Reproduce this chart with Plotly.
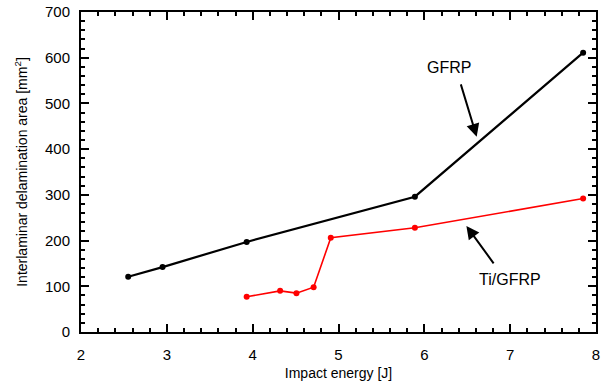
import plotly.graph_objects as go

gfrp_x = [2.55, 2.95, 3.93, 5.89, 7.85]
gfrp_y = [121, 142, 197, 296, 611]
ti_x = [3.93, 4.32, 4.51, 4.71, 4.91, 5.89, 7.85]
ti_y = [77, 90, 85, 98, 206, 228, 292]

x_ticks = [2, 3, 4, 5, 6, 7, 8]
y_ticks = [0, 100, 200, 300, 400, 500, 600, 700]

font = "Liberation Sans, Arial, sans-serif"

fig = go.Figure()
fig.add_trace(go.Scatter(x=gfrp_x, y=gfrp_y, mode="lines+markers",
                         line=dict(color="black", width=2.2),
                         marker=dict(color="black", size=6), name="GFRP"))
fig.add_trace(go.Scatter(x=ti_x, y=ti_y, mode="lines+markers",
                         line=dict(color="#ff0000", width=1.6),
                         marker=dict(color="#ff0000", size=6), name="Ti/GFRP"))

fig.add_annotation(x=6.29, y=578, text="GFRP", showarrow=False,
                   font=dict(family=font, size=16, color="black"))
fig.add_annotation(x=6.61, y=427, ax=6.42, ay=545, axref="x", ayref="y",
                   xref="x", yref="y", text="", showarrow=True,
                   arrowhead=2, arrowsize=1.3, arrowwidth=2, arrowcolor="black")
fig.add_annotation(x=7.0, y=114, text="Ti/GFRP", showarrow=False,
                   font=dict(family=font, size=16, color="black"))
fig.add_annotation(x=6.49, y=232, ax=6.82, ay=147, axref="x", ayref="y",
                   xref="x", yref="y", text="", showarrow=True,
                   arrowhead=2, arrowsize=1.3, arrowwidth=2, arrowcolor="black")

axis_common = dict(showline=True, linewidth=2, linecolor="black", mirror="allticks",
                   ticks="inside", ticklen=8, tickwidth=1.5, tickcolor="black",
                   showgrid=False, zeroline=False,
                   tickfont=dict(family=font, size=15, color="black"))

fig.update_xaxes(range=[2, 8], tickvals=x_ticks, ticktext=[str(v) for v in x_ticks],
                 ticklabelstandoff=8,
                 minor=dict(ticks="inside", ticklen=4, dtick=0.2, tickwidth=1.5,
                            tickcolor="black", showgrid=False),
                 title=dict(text="Impact energy [J]", font=dict(family=font, size=14, color="black"),
                            standoff=6),
                 **axis_common)
fig.update_yaxes(range=[0, 700], tickvals=y_ticks, ticktext=[str(v) for v in y_ticks],
                 ticklabelstandoff=6,
                 minor=dict(ticks="inside", ticklen=4, dtick=20, tickwidth=1.5,
                            tickcolor="black", showgrid=False),
                 title=dict(text="Interlaminar delamination area [mm<sup>2</sup>]",
                            font=dict(family=font, size=14, color="black"), standoff=14),
                 **axis_common)

fig.update_layout(width=603, height=387, margin=dict(l=81, r=3, t=12, b=55),
                  plot_bgcolor="white", paper_bgcolor="white", showlegend=False)
fig.write_html("out.html")
